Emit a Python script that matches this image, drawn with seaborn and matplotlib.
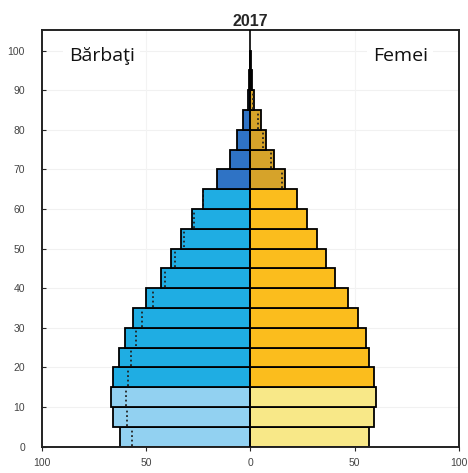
import numpy as np
import pandas as pd
import matplotlib
matplotlib.use('Agg')
import matplotlib.pyplot as plt
import seaborn as sns
from matplotlib.ticker import FuncFormatter

# Age groups (start of each 5-year band)
ages = [0, 5, 10, 15, 20, 25, 30, 35, 40, 45, 50, 55, 60, 65, 70, 75, 80, 85, 90, 95]
groups = ['young'] * 3 + ['work'] * 10 + ['old'] * 5 + ['top'] * 2

# 2017 population (thousands)
male = [62.5, 65.9, 67.0, 65.9, 63.0, 60.1, 56.1, 49.9, 43.0, 37.9,
        33.4, 28.1, 22.9, 15.8, 10.0, 6.6, 3.5, 1.0, 0.8, 0.2]
female = [56.9, 59.3, 60.4, 59.0, 56.6, 55.3, 51.6, 46.8, 40.6, 36.1,
          31.8, 27.0, 22.2, 16.4, 11.2, 7.3, 4.9, 1.7, 0.8, 0.2]

# dotted reference outline (earlier year)
male_ref = [56.6, 59.3, 59.8, 58.7, 57.0, 54.7, 51.8, 46.7, 41.1, 36.3,
            31.8, 27.0, 22.5, np.nan, np.nan, np.nan, np.nan, np.nan, np.nan, np.nan]
female_ref = [np.nan] * 13 + [15.3, 10.1, 6.2, 3.7, 1.3, np.nan, np.nan]

palette = {
    'm_young': '#92d1f1', 'm_work': '#1fade3', 'm_old': '#2f73c5', 'm_top': '#000000',
    'f_young': '#f8e888', 'f_work': '#fbbd1d', 'f_old': '#d6a32a', 'f_top': '#000000',
}

df = pd.concat([
    pd.DataFrame({'mid': np.array(ages) + 2.5, 'value': -np.array(male),
                  'group': ['m_' + g for g in groups]}),
    pd.DataFrame({'mid': np.array(ages) + 2.5, 'value': np.array(female),
                  'group': ['f_' + g for g in groups]}),
], ignore_index=True)

sns.set_theme(style="white")
plt.rcParams['font.family'] = ['Liberation Sans', 'DejaVu Sans']

fig = plt.figure(figsize=(4.68, 4.73), dpi=100)
ax = fig.add_axes([0.089, 0.0556, 0.892, 0.881])

# faint grid
for yv in range(10, 101, 10):
    ax.axhline(yv, color='#f1f1f1', lw=0.8, zorder=0)
for xv in (-50, 50):
    ax.axvline(xv, color='#f3f3f3', lw=0.8, zorder=0)

sns.barplot(data=df, x='value', y='mid', hue='group', palette=palette,
            orient='h', native_scale=True, dodge=False, width=1, saturation=1,
            edgecolor='black', linewidth=1.3, errorbar=None, legend=False,
            ax=ax, zorder=2)

# dotted outline of the reference year
a = np.array(ages, dtype=float)
ax.vlines(-np.array(male_ref), a + 0.3, a + 4.7, colors='#222222',
          linestyles=(0, (1, 1.5)), lw=1.3, zorder=3)
ax.vlines(np.array(female_ref), a + 0.3, a + 4.7, colors='#222222',
          linestyles=(0, (1, 1.5)), lw=1.3, zorder=3)

ax.axvline(0, color='black', lw=1.2, zorder=4)

ax.set_xlim(-100, 100)
ax.set_ylim(0, 105.2)
ax.set_xticks([-100, -50, 0, 50, 100])
ax.set_yticks(range(0, 101, 10))
ax.xaxis.set_major_formatter(FuncFormatter(lambda v, p: f'{abs(v):.0f}'))
ax.set_xlabel('')
ax.set_ylabel('')
ax.tick_params(axis='y', direction='in', length=3, width=0.8, labelsize=7.5,
               labelcolor='#444444', left=True, pad=12)
ax.tick_params(axis='x', direction='out', length=3, width=0.8, labelsize=7.5,
               labelcolor='#444444', bottom=True, pad=5)
for s in ax.spines.values():
    s.set_color('#222222')
    s.set_linewidth(1.4)

ax.set_title('2017', fontsize=11.5, fontweight='bold', pad=3)

box = dict(facecolor='white', edgecolor='none', pad=4)
ax.text(-87, 98.7, 'Bărbaţi', fontsize=14, family=['Open Sans', 'DejaVu Sans'],
        ha='left', va='center', color='#111111', bbox=box, zorder=5)
ax.text(85, 98.7, 'Femei', fontsize=14, family=['Open Sans', 'DejaVu Sans'],
        ha='right', va='center', color='#111111', bbox=box, zorder=5)

fig.savefig('out.png', dpi=100)
